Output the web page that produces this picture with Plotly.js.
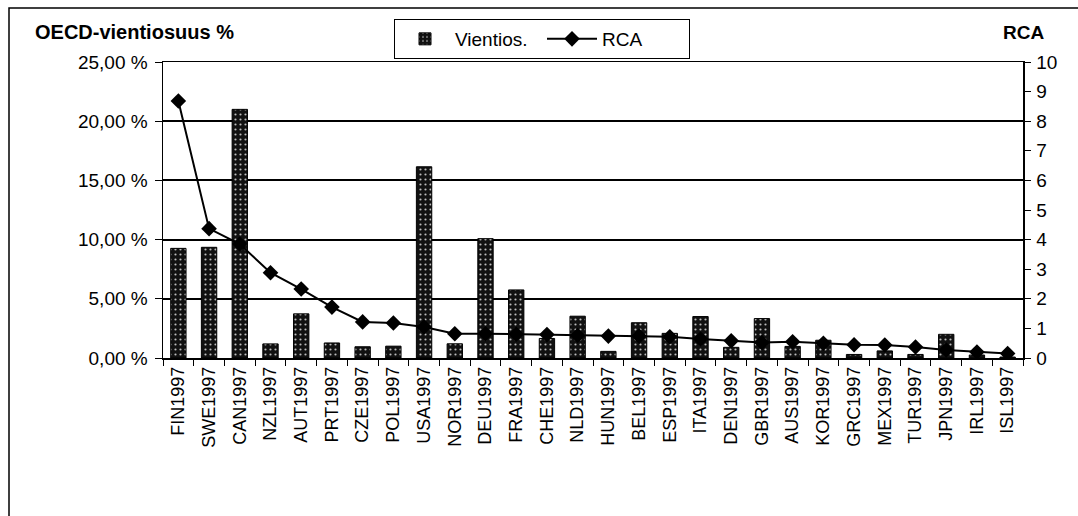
<!DOCTYPE html>
<html>
<head>
<meta charset="utf-8">
<script src="https://cdn.plot.ly/plotly-3.0.1.min.js"></script>
<style>
  html, body { margin: 0; padding: 0; background: #fff; }
  #chart { width: 1078px; height: 516px; }
</style>
</head>
<body>
<div id="chart"></div>
<script>
// ---- Data ----
const categories = ['FIN1997','SWE1997','CAN1997','NZL1997','AUT1997','PRT1997','CZE1997','POL1997',
  'USA1997','NOR1997','DEU1997','FRA1997','CHE1997','NLD1997','HUN1997','BEL1997','ESP1997','ITA1997',
  'DEN1997','GBR1997','AUS1997','KOR1997','GRC1997','MEX1997','TUR1997','JPN1997','IRL1997','ISL1997'];
const vientios = [9.26, 9.35, 21.0, 1.19, 3.73, 1.27, 0.95, 1.0, 16.15, 1.2, 10.08, 5.75, 1.65, 3.53,
  0.56, 2.98, 2.08, 3.5, 0.9, 3.33, 0.98, 1.5, 0.3, 0.6, 0.3, 2.0, 0.25, 0.08];
const rca = [8.68, 4.37, 3.85, 2.88, 2.33, 1.72, 1.22, 1.18, 1.05, 0.82, 0.82, 0.8, 0.79, 0.76,
  0.74, 0.74, 0.72, 0.64, 0.58, 0.52, 0.55, 0.5, 0.45, 0.44, 0.37, 0.27, 0.2, 0.15];
const leftTickVals = [0, 5, 10, 15, 20, 25];
const leftTickText = ['0,00 %', '5,00 %', '10,00 %', '15,00 %', '20,00 %', '25,00 %'];
const rightTickVals = [0, 1, 2, 3, 4, 5, 6, 7, 8, 9, 10];
const seriesNames = ['Vientios.', 'RCA'];
const leftTitle = 'OECD-vientiosuus %';
const rightTitle = 'RCA';

// ---- Chart ----
const FONT = '"Liberation Sans", Arial, Helvetica, sans-serif';

const traces = [
  {
    type: 'bar',
    name: seriesNames[0],
    x: categories,
    y: vientios,
    width: 0.5,
    marker: {
      color: '#111',
      line: { color: '#000', width: 1 },
      pattern: { shape: '.', fgcolor: '#bdbdbd', bgcolor: '#111', size: 5, solidity: 0.15 }
    },
    yaxis: 'y'
  },
  {
    type: 'scatter',
    mode: 'lines+markers',
    name: seriesNames[1],
    x: categories,
    y: rca,
    line: { color: '#000', width: 2 },
    marker: { symbol: 'diamond', size: 12, color: '#000' },
    yaxis: 'y2'
  }
];

const W = 1078, H = 516;
const L = 163, R = 1023, T = 62, B = 358;
const px = v => (v - L) / (R - L);
const py = v => (B - v) / (B - T);

const layout = {
  width: W, height: H,
  margin: { l: L, r: W - R, t: T, b: H - B, pad: 0 },
  paper_bgcolor: '#fff',
  plot_bgcolor: '#fff',
  font: { family: FONT, color: '#000', size: 16 },
  showlegend: true,
  legend: {
    orientation: 'h',
    x: px(394), y: py(19), xanchor: 'left', yanchor: 'top',
    bordercolor: '#000', borderwidth: 1, bgcolor: '#fff',
    font: { family: FONT, size: 19, color: '#000' },
    itemwidth: 50, tracegroupgap: 0,
    entrywidth: 82, entrywidthmode: 'pixels'
  },
  xaxis: {
    type: 'category',
    tickangle: -90,
    tickfont: { family: FONT, size: 18, color: '#000' },
    showline: true, linecolor: '#000', linewidth: 1.5,
    mirror: true,
    ticks: 'outside', ticklen: 6, tickcolor: '#000', tickwidth: 1,
    tickson: 'boundaries',
    showgrid: false,
    range: [-0.5, categories.length - 0.5]
  },
  yaxis: {
    range: [0, 25],
    tickvals: leftTickVals,
    ticktext: leftTickText,
    tickfont: { family: FONT, size: 19, color: '#000' },
    showline: true, linecolor: '#000', linewidth: 1.5,
    ticks: 'outside', ticklen: 7, tickcolor: '#000', tickwidth: 1,
    ticklabelstandoff: 3,
    showgrid: true, gridcolor: '#000', gridwidth: 2,
    zeroline: false
  },
  yaxis2: {
    overlaying: 'y', side: 'right',
    range: [0, 10],
    tickvals: rightTickVals,
    tickfont: { family: FONT, size: 19, color: '#000' },
    showline: true, linecolor: '#000', linewidth: 1.5,
    ticks: 'outside', ticklen: 6, tickcolor: '#000', tickwidth: 1,
    ticklabelstandoff: 2,
    showgrid: false, zeroline: false
  },
  annotations: [
    { text: '<b>' + leftTitle + '</b>', xref: 'paper', yref: 'paper',
      x: px(33), y: py(32), xanchor: 'left', yanchor: 'middle', showarrow: false,
      font: { family: FONT, size: 20, color: '#000' } },
    { text: '<b>' + rightTitle + '</b>', xref: 'paper', yref: 'paper',
      x: px(1046), y: py(32), xanchor: 'right', yanchor: 'middle', showarrow: false,
      font: { family: FONT, size: 19, color: '#000' } }
  ],
  shapes: [
    { type: 'rect', xref: 'paper', yref: 'paper',
      x0: px(9), x1: px(1100), y0: py(540), y1: py(8),
      line: { color: '#000', width: 1.5 }, fillcolor: 'rgba(0,0,0,0)', layer: 'below' }
  ]
};

Plotly.newPlot('chart', traces, layout, { displayModeBar: false, staticPlot: true });
</script>
</body>
</html>
